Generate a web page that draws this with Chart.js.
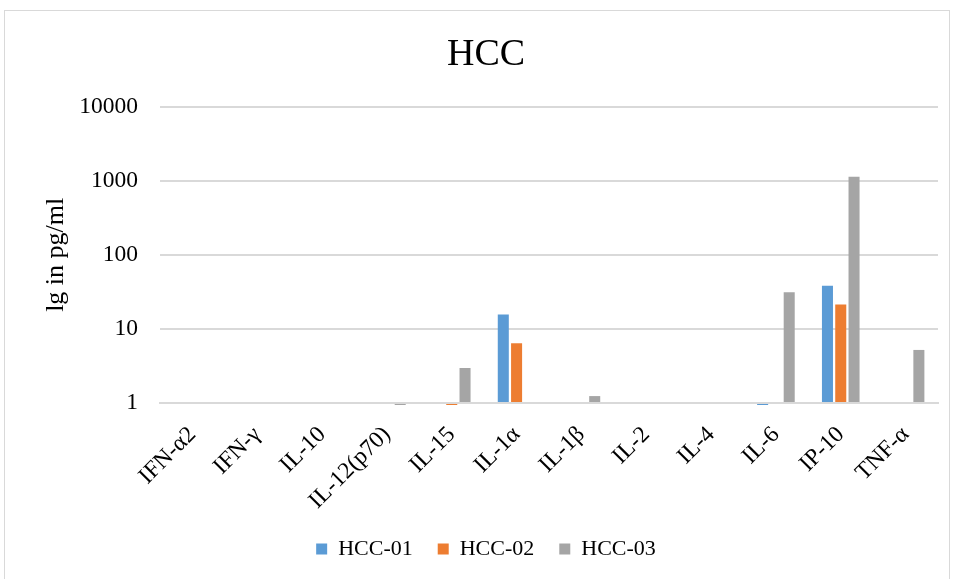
<!DOCTYPE html>
<html>
<head>
<meta charset="utf-8">
<script src="https://cdn.jsdelivr.net/npm/chart.js@4.4.1/dist/chart.umd.min.js"></script>
<style>
    html, body { margin: 0; padding: 0; background: #ffffff; overflow: hidden; }
    #quadro {
        position: absolute; left: 4px; top: 10px;
        width: 946px; height: 580px;
        border: 1px solid #d9d9d9; box-sizing: border-box;
    }
    #grafico { display: block; }
</style>
</head>
<body>
<div id="quadro"><canvas id="grafico" width="944" height="578"></canvas></div>
<script>
// dados (escala log)
const categorias = ['IFN-α2', 'IFN-γ', 'IL-10', 'IL-12(p70)', 'IL-15', 'IL-1α', 'IL-1β', 'IL-2', 'IL-4', 'IL-6', 'IP-10', 'TNF-α'];
const hcc01 = [null, null, null, null, null, 15.6, null, null, null, 0.94, 38.1, null];
const hcc02 = [null, null, null, null, 0.94, 6.4, null, null, null, null, 21.3, null];
const hcc03 = [null, null, null, 0.94, 2.97, null, 1.24, null, null, 31.3, 1130, 5.2];
const ticksY = [1, 10, 100, 1000, 10000];

const fonte = "'Liberation Serif', 'Times New Roman', serif";

function serie(label, data, cor) {
    return {
        label: label,
        data: data,
        backgroundColor: cor,
        borderWidth: 0,
        base: 1,
        clip: false,
        categoryPercentage: 0.615,
        barPercentage: 0.83
    };
}

new Chart(document.getElementById('grafico'), {
    type: 'bar',
    data: {
        labels: categorias,
        datasets: [
            serie('HCC-01', hcc01, '#5b9bd5'),
            serie('HCC-02', hcc02, '#ed7d31'),
            serie('HCC-03', hcc03, '#a5a5a5')
        ]
    },
    options: {
        responsive: false,
        animation: false,
        // padding esquerdo desloca título e legenda para a direita, como no original
        layout: { padding: { top: 21, right: 11, bottom: 19, left: 29 } },
        plugins: {
            title: {
                display: true,
                text: 'HCC',
                color: '#000000',
                font: { family: fonte, size: 38, weight: 'normal' },
                padding: { top: 0, bottom: 29 }
            },
            legend: {
                position: 'bottom',
                labels: {
                    color: '#000000',
                    font: { family: fonte, size: 22 },
                    boxWidth: 11,
                    boxHeight: 11,
                    padding: 25
                }
            },
            tooltip: { enabled: false }
        },
        scales: {
            x: {
                grid: { display: false },
                border: { color: '#d9d9d9', width: 2 },
                ticks: {
                    color: '#000000',
                    font: { family: fonte, size: 23.5 },
                    minRotation: 45,
                    maxRotation: 45,
                    autoSkip: false,
                    padding: 10
                },
                afterFit: (scale) => { scale.height = 110; }
            },
            y: {
                type: 'logarithmic',
                min: 1,
                max: 10000,
                grid: { color: '#d9d9d9', lineWidth: 2, drawTicks: false },
                border: { display: false },
                afterBuildTicks: (scale) => { scale.ticks = ticksY.map(v => ({ value: v })); },
                ticks: {
                    color: '#000000',
                    font: { family: fonte, size: 23.5 },
                    padding: 22,
                    callback: (v) => String(v)
                },
                title: {
                    display: true,
                    text: 'lg in pg/ml',
                    color: '#000000',
                    font: { family: fonte, size: 26 },
                    padding: { top: 7, bottom: 0 }
                },
                afterFit: (scale) => { scale.width = 126; }
            }
        }
    }
});
</script>
</body>
</html>
